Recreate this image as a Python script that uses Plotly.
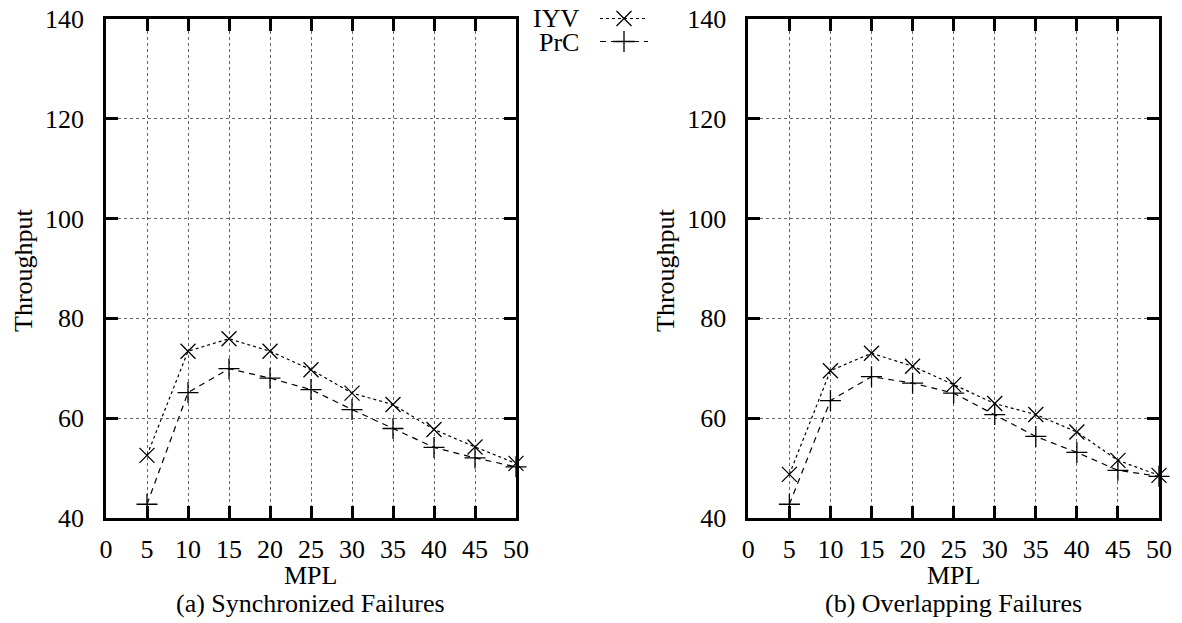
import plotly.graph_objects as go

mpl = [5, 10, 15, 20, 25, 30, 35, 40, 45, 50]
sync_iyv = [52.5, 73.4, 75.9, 73.4, 69.7, 65.0, 62.7, 57.7, 54.2, 50.9]
sync_prc = [42.7, 65.1, 69.9, 68.0, 65.7, 61.7, 57.9, 54.1, 52.0, 50.2]
over_iyv = [48.7, 69.5, 73.0, 70.4, 66.7, 62.9, 60.7, 57.2, 51.5, 48.5]
over_prc = [42.7, 63.5, 68.3, 67.0, 65.0, 60.7, 56.3, 53.1, 49.5, 48.3]
series_names = ["IYV", "PrC"]
x_ticks = [0, 5, 10, 15, 20, 25, 30, 35, 40, 45, 50]
y_ticks = [40, 60, 80, 100, 120, 140]
captions = ["(a) Synchronized Failures", "(b) Overlapping Failures"]

W, H = 1182, 623
FONT = "Liberation Serif, Times New Roman, DejaVu Serif, serif"
FS = 26

def px_x(p):
    return p / W

def px_y(p):
    return (H - p) / H

fig = go.Figure()

styles = {
    "IYV": dict(dash="dot", symbol="x-thin"),
    "PrC": dict(dash="6px,5px", symbol="cross-thin"),
}

panels = [("x", "y", sync_iyv, sync_prc), ("x2", "y2", over_iyv, over_prc)]
for xa, ya, iyv, prc in panels:
    for name, vals in zip(series_names, [iyv, prc]):
        st = styles[name]
        fig.add_trace(go.Scatter(
            x=mpl, y=vals, xaxis=xa, yaxis=ya, mode="lines+markers",
            line=dict(color="black", width=1.2, dash=st["dash"]),
            marker=dict(symbol=st["symbol"], size=15, color="black",
                        line=dict(color="black", width=1.3)),
            showlegend=False, name=name, cliponaxis=False,
        ))

# legend keys (drawn on a small dedicated axis)
for name, row in zip(series_names, [1.5, 0.5]):
    st = styles[name]
    fig.add_trace(go.Scatter(
        x=[0, 1, 2], y=[row, row, row], xaxis="x3", yaxis="y3",
        mode="lines", line=dict(color="black", width=1.2, dash=st["dash"]),
        showlegend=False, hoverinfo="skip",
    ))
    fig.add_trace(go.Scatter(
        x=[1], y=[row], xaxis="x3", yaxis="y3", mode="markers",
        marker=dict(symbol=st["symbol"], size=15, color="black",
                    line=dict(color="black", width=1.3)),
        showlegend=False, hoverinfo="skip",
    ))

axis_common = dict(
    showline=True, linecolor="black", linewidth=2.5, mirror="ticks",
    ticks="inside", ticklen=12, tickwidth=2.5, tickcolor="black",
    showgrid=True, gridcolor="#666666", griddash="dot", gridwidth=1.2,
    zeroline=False, automargin=False, ticklabeloverflow="allow",
    tickfont=dict(family=FONT, size=FS, color="black"),
)

xdom1 = [px_x(106), px_x(516)]
xdom2 = [px_x(748.3), px_x(1159)]
ydom = [px_y(517.7), px_y(19.3)]

for i, (xd, xa, ya) in enumerate([(xdom1, "xaxis", "yaxis"), (xdom2, "xaxis2", "yaxis2")]):
    anchor_y = "y" if i == 0 else "y2"
    anchor_x = "x" if i == 0 else "x2"
    fig.layout[xa] = dict(axis_common, domain=xd, anchor=anchor_y, range=[0, 50],
                          tickvals=x_ticks, ticklabelstandoff=6)
    fig.layout[ya] = dict(axis_common, domain=ydom, anchor=anchor_x, range=[40, 140],
                          tickvals=y_ticks, ticklabelstandoff=14)

fig.layout["xaxis3"] = dict(domain=[px_x(600), px_x(648)], range=[0, 2], visible=False,
                            anchor="y3", fixedrange=True)
fig.layout["yaxis3"] = dict(domain=[px_y(53), px_y(7)], range=[0, 2], visible=False,
                            anchor="x3", fixedrange=True)

annotations = []
# legend labels
for name, ypx in zip(series_names, [18, 42]):
    annotations.append(dict(text=name, x=px_x(581), y=px_y(ypx), xref="paper", yref="paper",
                            xanchor="right", yanchor="middle", showarrow=False,
                            font=dict(family=FONT, size=FS, color="black")))
# axis titles and captions
for cx, cap in zip([(106 + 516) / 2, (748.3 + 1159) / 2], captions):
    annotations.append(dict(text="MPL", x=px_x(cx), y=px_y(575), xref="paper", yref="paper",
                            xanchor="center", yanchor="middle", showarrow=False,
                            font=dict(family=FONT, size=FS, color="black")))
    annotations.append(dict(text=cap, x=px_x(cx), y=px_y(603), xref="paper", yref="paper",
                            xanchor="center", yanchor="middle", showarrow=False,
                            font=dict(family=FONT, size=FS, color="black")))
for tx in [23, 665]:
    annotations.append(dict(text="Throughput", x=px_x(tx), y=px_y(270), xref="paper", yref="paper",
                            xanchor="center", yanchor="middle", showarrow=False, textangle=-90,
                            font=dict(family=FONT, size=FS, color="black")))

fig.update_layout(
    width=W, height=H, margin=dict(l=0, r=0, t=0, b=0, pad=0, autoexpand=False),
    paper_bgcolor="white", plot_bgcolor="white",
    annotations=annotations,
    font=dict(family=FONT, size=FS, color="black"),
)

fig.write_html(
    "out.html",
    config={"displayModeBar": False},
    post_script="document.body.style.margin='0';document.body.style.overflow='hidden';",
)
